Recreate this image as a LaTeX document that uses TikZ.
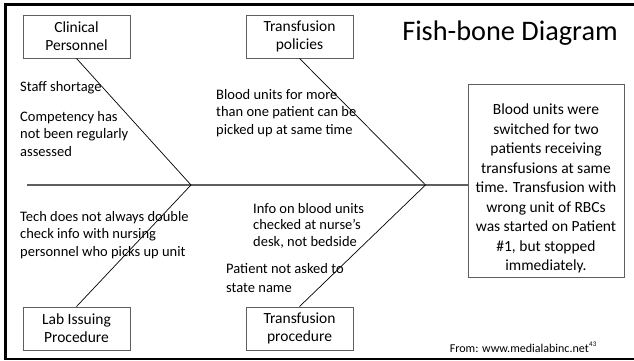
\documentclass[tikz,border=0pt]{standalone}
\usepackage{fontspec}
\setmainfont{Carlito}
\usepackage{tikz}
\usetikzlibrary{calc}
\definecolor{bonegray}{HTML}{5F5F5F}
\tikzset{
  causebox/.style={draw=bonegray, line width=0.9pt, minimum width=107pt, minimum height=43pt,
    inner sep=0pt, align=center, font=\fontsize{15.5}{18}\selectfont},
  effectbox/.style={draw=bonegray, line width=0.9pt, minimum width=156pt, minimum height=193pt,
    inner sep=0pt},
  effecttext/.style={inner sep=0pt, align=center, font=\fontsize{15.5}{19.5}\selectfont},
  note/.style={anchor=base west, inner sep=0pt, align=left, font=\fontsize{14.5}{17.5}\selectfont},
  bone/.style={black, line width=0.7pt},
  spine/.style={bonegray, line width=1.6pt}
}

\begin{document}
\begin{tikzpicture}[x=1pt, y=-1pt]
  \useasboundingbox (0,0) rectangle (634,360);
  % frame
  \draw[line width=2.5pt] (640,4.5) -- (5.3,4.5) -- (5.3,359) -- (640,359);

  \node (title) at (510,33) {\fontsize{28.3}{30}\selectfont Fish-bone Diagram};

  % causes
  \node[causebox] (cp) at (76.5,36.5) {Clinical\\Personnel};
  \node[causebox] (tp) at (299.5,36.5) {Transfusion\\policies};
  \node[causebox] (lab) at (76.5,328.5) {Lab Issuing\\Procedure};
  \node[causebox] (tproc) at (299.5,328.5) {Transfusion\\procedure};

  % effect
  \node[effectbox] (effect) at (546,180.5) {};
  \node[effecttext] (effecttxt) at ([yshift=-8pt]effect.center) {Blood units were\\switched for two\\patients receiving\\transfusions at same\\time. Transfusion with\\wrong unit of RBCs\\was started on Patient\\\#1, but stopped\\immediately.};

  % spine and bones
  \coordinate (tail) at (27,185);
  \coordinate (j1) at (191,185);
  \coordinate (j2) at (425.5,185);
  \draw[spine] (tail) -- (j1) -- (j2) -- (effect.west |- tail);
  \draw[bone] (cp.south) -- (j1);
  \draw[bone] (lab.north) -- (j1);
  \draw[bone] (tp.south) -- (j2);
  \draw[bone] (tproc.north) -- (j2);

  % sub-causes (placed at baseline of last line)
  \node[note] (staff) at (20,91.3) {Staff shortage};
  \node[note] (comp) at (20,156.3) {Competency has\\not been regularly\\assessed};
  \node[note] (units) at (216,134.3) {Blood units for more\\than one patient can be\\picked up at same time};
  \node[note] (tech) at (20,256.3) {Tech does not always double\\check info with nursing\\personnel who picks up unit};
  \node[note, font=\fontsize{14.5}{16.5}\selectfont] (info) at (253,246.3) {Info on blood units\\checked at nurse’s\\desk, not bedside};
  \node[note, font=\fontsize{14.5}{19}\selectfont] (name) at (226,292.3) {Patient not asked to\\state name};

  % source
  \node[anchor=base east, inner sep=0pt, font=\fontsize{12}{12}\selectfont] (src) at (589,352) {From: www.medialabinc.net};
  \node[anchor=base west, inner sep=0pt, font=\fontsize{7}{7}\selectfont] (pg) at (src.base east) [yshift=6pt] {43};
\end{tikzpicture}
\end{document}
